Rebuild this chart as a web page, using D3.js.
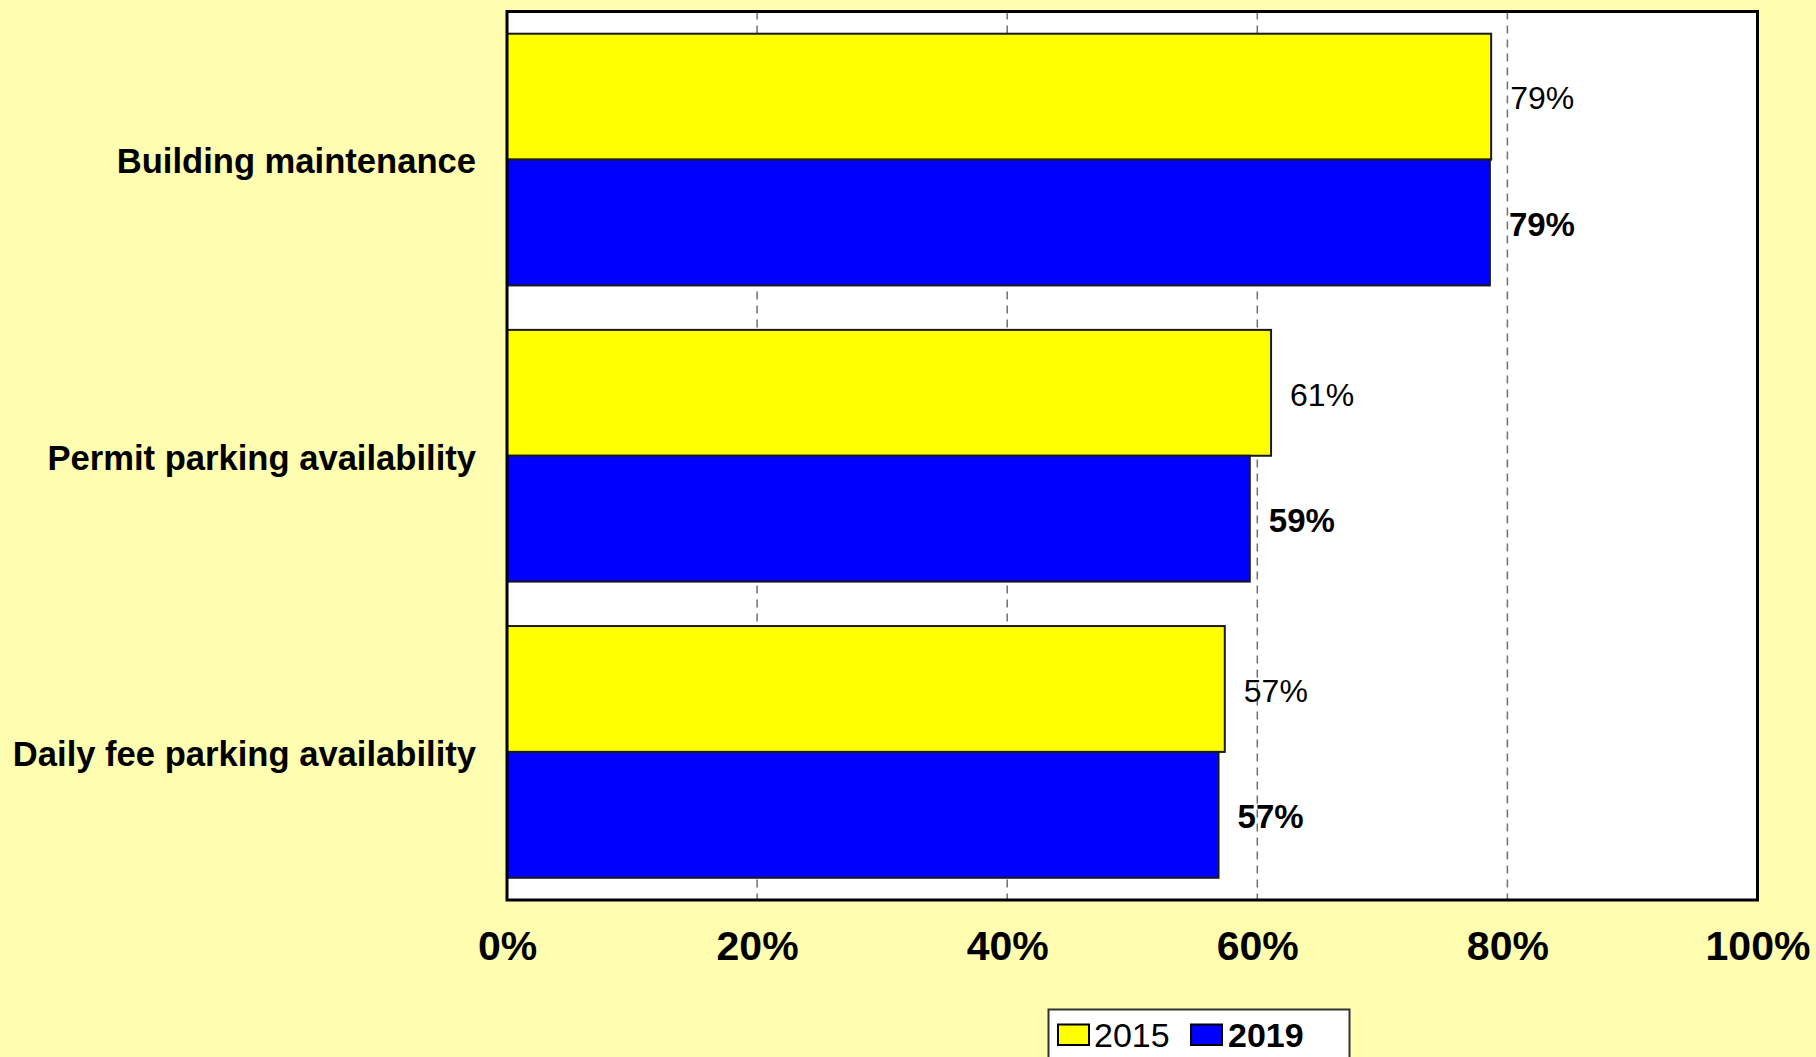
<!DOCTYPE html>
<html>
<head>
<meta charset="utf-8">
<script src="https://cdn.jsdelivr.net/npm/d3@7"></script>
<style>
  html, body { margin: 0; padding: 0; background: #FFFDB0; }
  svg { display: block; font-family: "Liberation Sans", Arial, sans-serif; }
</style>
</head>
<body>
<script>
const categories = ["Building maintenance", "Permit parking availability", "Daily fee parking availability"];
const series = ["2015", "2019"];
const values2015 = [0.787, 0.611, 0.574];
const values2019 = [0.786, 0.594, 0.569];
const xTicks = [0, 0.2, 0.4, 0.6, 0.8, 1.0];
const colors = ["#FFFF00", "#0000FF"];

(function () {
const W = 1816, H = 1057;
const pLeft = 507, pTop = 11.5, pRight = 1757.5, pBottom = 900;

const svg = d3.select("body").append("svg").attr("width", W).attr("height", H);
svg.append("rect").attr("width", W).attr("height", H).attr("fill", "#FFFDB0");

const x = d3.scaleLinear().domain([0, 1]).range([pLeft, pRight]);
const y = d3.scaleBand().domain(categories).range([pTop, pBottom]).paddingInner(0.15).paddingOuter(0.075);
const ySub = d3.scaleBand().domain(series).range([0, y.bandwidth()]);

// plot area background
svg.append("rect").attr("x", pLeft).attr("y", pTop).attr("width", pRight - pLeft).attr("height", pBottom - pTop)
  .attr("fill", "#FFFFFF");

// gridlines
svg.append("g").selectAll("line").data(xTicks.filter(t => t > 0 && t < 1)).join("line")
  .attr("x1", d => x(d)).attr("x2", d => x(d))
  .attr("y1", pTop).attr("y2", pBottom)
  .attr("stroke", "#707070").attr("stroke-width", 1.5).attr("stroke-dasharray", "8,6");

// bars
const data = categories.map((c, i) => ({ c, vals: [values2015[i], values2019[i]] }));
const groups = svg.append("g").selectAll("g").data(data).join("g")
  .attr("transform", d => `translate(0,${y(d.c)})`);

groups.selectAll("rect").data(d => d.vals.map((v, j) => ({ v, s: series[j], j }))).join("rect")
  .attr("x", x(0))
  .attr("y", d => ySub(d.s))
  .attr("width", d => x(d.v) - x(0))
  .attr("height", ySub.bandwidth())
  .attr("fill", d => colors[d.j])
  .attr("stroke", "#1a1a1a").attr("stroke-width", 2);

const fmt = d3.format(".0%");
groups.selectAll("text").data(d => d.vals.map((v, j) => ({ v, s: series[j], j }))).join("text")
  .attr("x", d => x(d.v) + 19)
  .attr("y", d => ySub(d.s) + ySub.bandwidth() / 2)
  .attr("dy", "0.4em")
  .attr("font-size", d => d.j === 0 ? 32 : 33)
  .attr("font-weight", d => d.j === 0 ? "normal" : "bold")
  .attr("fill", "#000")
  .text(d => fmt(d.v));

// plot border
svg.append("rect").attr("x", pLeft).attr("y", pTop).attr("width", pRight - pLeft).attr("height", pBottom - pTop)
  .attr("fill", "none").attr("stroke", "#000").attr("stroke-width", 3);

// x axis
const xAxis = svg.append("g").attr("transform", `translate(0,${pBottom})`)
  .call(d3.axisBottom(x).tickValues(xTicks).tickFormat(d3.format(".0%")).tickSize(0));
xAxis.select(".domain").remove();
xAxis.selectAll("text").attr("y", 60).attr("dy", 0)
  .attr("font-size", 41).attr("font-weight", "bold").attr("fill", "#000")
  .attr("font-family", "'Liberation Sans', Arial, sans-serif");

// y axis (category labels)
const yAxis = svg.append("g").attr("transform", `translate(${pLeft},0)`)
  .call(d3.axisLeft(y).tickSize(0).tickPadding(31));
yAxis.select(".domain").remove();
yAxis.selectAll("text").attr("dy", "0.4em")
  .attr("font-size", 34.6).attr("font-weight", "bold").attr("fill", "#000")
  .attr("font-family", "'Liberation Sans', Arial, sans-serif");

// legend
const lg = svg.append("g");
lg.append("rect").attr("x", 1048.5).attr("y", 1009.5).attr("width", 301).attr("height", 70)
  .attr("fill", "#FFFFFF").attr("stroke", "#333").attr("stroke-width", 2);
const legendItems = [
  { s: series[0], sx: 1058, tx: 1094, bold: false },
  { s: series[1], sx: 1191, tx: 1228, bold: true }
];
legendItems.forEach((it, j) => {
  lg.append("rect").attr("x", it.sx).attr("y", 1024.5).attr("width", 31).attr("height", 20.5)
    .attr("fill", colors[j]).attr("stroke", "#000").attr("stroke-width", 2);
  lg.append("text").attr("x", it.tx).attr("y", 1046.5)
    .attr("font-size", 34).attr("font-weight", it.bold ? "bold" : "normal").attr("fill", "#000")
    .text(it.s);
});
})();
</script>
</body>
</html>
